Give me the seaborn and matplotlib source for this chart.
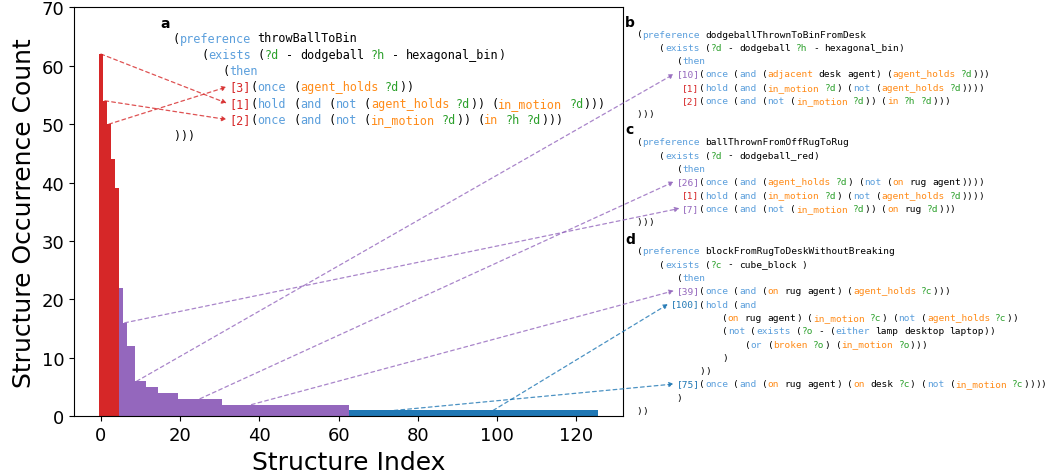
"""
Structure occurrence counts with annotated example preferences
"""

import re
import numpy as np
import pandas as pd
import matplotlib
matplotlib.use("Agg")
import matplotlib.pyplot as plt
import seaborn as sns

run_counts = [62, 54, 50, 44, 39, 22, 16, 12, 6, 5, 4, 3, 2, 1]
run_lengths = [1, 1, 1, 1, 1, 1, 1, 2, 3, 3, 5, 11, 32, 63]

# structure groups: most common / mid / rare
group_names = ["top", "mid", "rare"]
group_sizes = [5, 58, 63]
group_colors = ["#d62728", "#9467bd", "#1f77b4"]

x_ticks = [0, 20, 40, 60, 80, 100, 120]
y_ticks = [0, 10, 20, 30, 40, 50, 60, 70]

# example preferences shown next to the histogram
panel_a = [
    "(preference throwBallToBin",
    "    (exists (?d - dodgeball ?h - hexagonal_bin)",
    "       (then",
    "        [3](once (agent_holds ?d))",
    "        [1](hold (and (not (agent_holds ?d)) (in_motion ?d)))",
    "        [2](once (and (not (in_motion ?d)) (in ?h ?d)))",
    ")))",
]
panel_b = [
    "(preference dodgeballThrownToBinFromDesk",
    "    (exists (?d - dodgeball ?h - hexagonal_bin)",
    "       (then",
    "       [10](once (and (adjacent desk agent) (agent_holds ?d)))",
    "        [1](hold (and (in_motion ?d) (not (agent_holds ?d))))",
    "        [2](once (and (not (in_motion ?d)) (in ?h ?d)))",
    ")))",
]
panel_c = [
    "(preference ballThrownFromOffRugToRug",
    "    (exists (?d - dodgeball_red)",
    "       (then",
    "       [26](once (and (agent_holds ?d) (not (on rug agent))))",
    "        [1](hold (and (in_motion ?d) (not (agent_holds ?d))))",
    "        [7](once (and (not (in_motion ?d)) (on rug ?d)))",
    ")))",
]
panel_d = [
    "(preference blockFromRugToDeskWithoutBreaking",
    "    (exists (?c - cube_block )",
    "       (then",
    "       [39](once (and (on rug agent) (agent_holds ?c)))",
    "      [100](hold (and",
    "               (on rug agent) (in_motion ?c) (not (agent_holds ?c))",
    "               (not (exists (?o - (either lamp desktop laptop))",
    "                   (or (broken ?o) (in_motion ?o)))",
    "               )",
    "           ))",
    "       [75](once (and (on rug agent) (on desk ?c) (not (in_motion ?c))))",
    "       )",
    "))",
]
arrow_tags = {"a": [3, 1, 2], "b": [10], "c": [26, 7], "d": [39, 100, 75]}

keywords = {"preference", "exists", "then", "once", "and", "not", "hold", "either", "or"}
predicates = {"agent_holds", "in_motion", "in", "adjacent", "on", "broken"}
kw_color = "#5b9fdc"
pred_color = "#ff8c1a"
var_color = "#2ca02c"

W, H = 1057, 477

counts = np.repeat(run_counts, run_lengths)
index = np.arange(len(counts))
groups = np.repeat(group_names, group_sizes)
df = pd.DataFrame({"index": index, "count": counts, "group": groups})
palette = dict(zip(group_names, group_colors))


def tag_color(tag):
    g = df.loc[tag - 1, "group"]
    return palette[g]


fig = plt.figure(figsize=(W / 100, H / 100), dpi=100)
ax = fig.add_axes([74 / W, 1 - 417.3 / H, (623 - 74) / W, (417.3 - 8.3) / H])

sns.barplot(data=df, x="index", y="count", hue="group", palette=palette,
            native_scale=True, width=1, errorbar=None, legend=False,
            saturation=1, linewidth=0, ax=ax)
ax.set_xlim(-6.8, 131.8)
ax.set_ylim(0, 70)
ax.set_xticks(x_ticks)
ax.set_yticks(y_ticks)
ax.tick_params(labelsize=13)
ax.set_xlabel("Structure Index", fontsize=18)
ax.set_ylabel("Structure Occurrence Count", fontsize=18)


def draw_panel(lines, x0, y0, dy, fontsize, char_w):
    """Draw colored code lines in figure pixels (y from top); return tag positions."""
    tag_pos = {}
    for i, line in enumerate(lines):
        y = y0 + i * dy
        col = 0
        for tok in re.findall(r"\[\d+\]|\?\w+|[A-Za-z_]+|\s+|.", line):
            if not tok.isspace():
                if tok.startswith("["):
                    color = tag_color(int(tok[1:-1]))
                    tag_pos[int(tok[1:-1])] = (x0 + col * char_w, y)
                elif tok.startswith("?"):
                    color = var_color
                elif tok in keywords:
                    color = kw_color
                elif tok in predicates:
                    color = pred_color
                else:
                    color = "black"
                fig.text((x0 + col * char_w) / W, 1 - y / H, tok, color=color,
                         fontsize=fontsize, family="DejaVu Sans Mono",
                         ha="left", va="center")
            col += len(tok)
    return tag_pos


panels = [
    ("a", panel_a, 160, 28.3, 172.7, 39.0, 16.3, 8.47, 7.08),
    ("b", panel_b, 625, 26.7, 636.7, 35.0, 13.33, 6.8, 5.69),
    ("c", panel_c, 625, 134.0, 636.7, 142.7, 13.33, 6.8, 5.69),
    ("d", panel_d, 625, 244.3, 636.7, 251.7, 13.33, 6.8, 5.69),
]

for label, lines, lx, ly, x0, y0, dy, fs, cw in panels:
    fig.text(lx / W, 1 - ly / H, label, fontsize=10, fontweight="bold",
             ha="left", va="baseline")
    tag_pos = draw_panel(lines, x0, y0, dy, fs, cw)
    for tag in arrow_tags[label]:
        tx, ty = tag_pos[tag]
        ax.annotate("", xy=(tx - 2.5, H - ty), xycoords="figure pixels",
                    xytext=(tag - 1, counts[tag - 1]), textcoords="data",
                    arrowprops=dict(arrowstyle="-|>", linestyle=(0, (3, 2.5)),
                                    color=tag_color(tag), alpha=0.8, lw=0.9,
                                    mutation_scale=7, shrinkA=0, shrinkB=0))

fig.savefig("out.png", dpi=100)
